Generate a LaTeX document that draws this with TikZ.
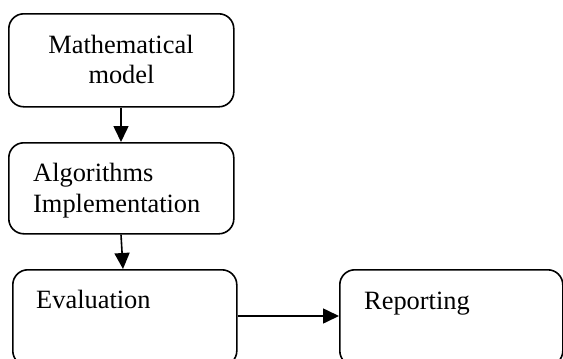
\documentclass[tikz,border=0pt]{standalone}
\usepackage{fontspec}
\setmainfont{Liberation Serif}
\usetikzlibrary{arrows.meta}
\tikzset{
  box/.style={draw=black, line width=1.6pt, rounded corners=15pt, inner sep=0pt, anchor=north west},
  lbl/.style={inner sep=0pt, font=\fontsize{26.4pt}{31pt}\selectfont, text=black},
  conn/.style={line width=1.6pt, -{Triangle[length=16pt,width=15pt]}}
}
\begin{document}
\begin{tikzpicture}[x=1pt,y=-1pt]
\useasboundingbox (0,0) rectangle (563,359);
\clip (0,0) rectangle (563,359);
\node[box, minimum width=225pt, minimum height=93pt] (m) at (8,13) {};
\node[box, minimum width=225pt, minimum height=91pt] (a) at (8,142) {};
\node[box, minimum width=224pt, minimum height=96pt] (e) at (12,269) {};
\node[box, minimum width=223pt, minimum height=96pt] (r) at (339,269) {};
\node[lbl, anchor=base] (t1) at (121,53) {Mathematical};
\node[lbl, anchor=base] (t2) at (121.5,83) {model};
\node[lbl, anchor=base west] (t3) at (33,181) {Algorithms};
\node[lbl, anchor=base west] (t4) at (33,212) {Implementation};
\node[lbl, anchor=base west] (t5) at (36,308) {Evaluation};
\node[lbl, anchor=base west] (t6) at (364,309) {Reporting};
\coordinate (m1) at (121,106);
\coordinate (a1) at (121,142);
\coordinate (a2) at (121,233);
\coordinate (e1) at (123,269);
\coordinate (e2) at (236,316);
\coordinate (r1) at (339,316);
\draw[conn] (m.south -| m1) -- (a.north -| a1);
\draw[conn] (a.south -| a2) -- (e.north -| e1);
\draw[conn] (e.east |- e2) -- (r.west |- r1);
\end{tikzpicture}
\end{document}
